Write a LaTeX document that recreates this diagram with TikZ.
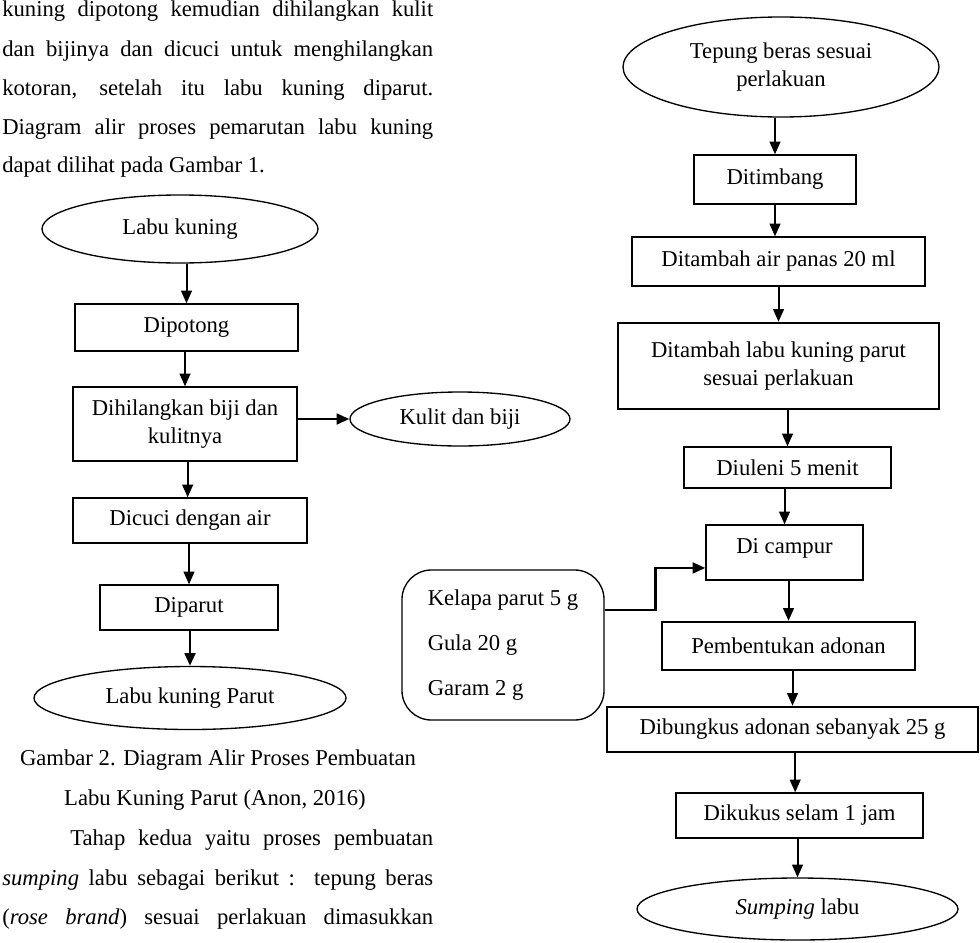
\documentclass[tikz,border=0pt]{standalone}
\usepackage{fontspec}
\setmainfont{Liberation Serif}
\usetikzlibrary{shapes.geometric,arrows.meta,calc}
\begin{document}
\begin{tikzpicture}[x=0.75pt,y=-0.75pt,
  every node/.style={font=\fontsize{17}{21}\selectfont, inner sep=0pt},
  sz/.style 2 args={minimum width=#1*0.75pt, minimum height=#2*0.75pt},
  box/.style={draw, line width=1pt, rectangle, align=center},
  tbox/.style={draw, line width=1.8pt, rectangle, align=center},
  oval/.style={draw, line width=1pt, ellipse, align=center},
  arr/.style={line width=1.5pt, -{Triangle[length=9.5pt,width=8pt]}},
  para/.style={anchor=base west}]
\useasboundingbox[fill=white] (0,0) rectangle (980,942);

% paragraph top
\node[para] (p1) at (2,17) {\makebox[323.25pt][s]{kuning dipotong kemudian dihilangkan kulit}};
\node[para] (p2) at (2,56) {\makebox[323.25pt][s]{dan bijinya dan dicuci untuk menghilangkan}};
\node[para] (p3) at (2,95) {\makebox[323.25pt][s]{kotoran, setelah itu labu kuning diparut.}};
\node[para] (p4) at (2,134) {\makebox[323.25pt][s]{Diagram alir proses pemarutan labu kuning}};
\node[para] (p5) at (2,172) {dapat dilihat pada Gambar 1.};

% left chart
\node[oval, sz={276}{68}] (lk) at (180,229) {Labu kuning};
\node[box, sz={223}{47}] (dip) at (186.5,327.5) {Dipotong};
\node[box, sz={224}{74}] (dih) at (185,424) {Dihilangkan biji dan\\kulitnya};
\node[oval, sz={220}{54}] (kulit) at (460,419) {Kulit dan biji};
\node[box, sz={234}{45}] (dic) at (190,520.5) {Dicuci dengan air};
\node[box, sz={178}{45}] (par) at (189,607.5) {Diparut};
\node[oval, sz={312}{63}] (lkp) at (190,698) {Labu kuning Parut};

\draw[arr] (dip.north |- lk.south) -- (dip.north);
\draw[arr] (dih.north |- dip.south) -- (dih.north);
\draw[arr, line width=2pt] (dih.east |- kulit) -- (kulit.west);
\draw[arr] ([xshift=2pt]dih.south) -- ([xshift=2pt]dih.south |- dic.north);
\draw[arr] (par.north |- dic.south) -- (par.north);
\draw[arr, line width=2pt] (lkp.north |- par.south) -- (lkp.north);

% caption and paragraph bottom
\node[anchor=base] (c1) at (218,765) {Gambar 2. Diagram Alir Proses Pembuatan};
\node[anchor=base] (c2) at (215,805) {Labu Kuning Parut (Anon, 2016)};
\node[para] (q1) at (70,845) {\makebox[272.25pt][s]{Tahap kedua yaitu proses pembuatan}};
\node[para] (q2) at (2,885) {\makebox[323.25pt][s]{\textit{sumping} labu sebagai berikut :\ \ tepung beras}};
\node[para] (q3) at (2,924) {\makebox[323.25pt][s]{(\textit{rose brand}) sesuai perlakuan dimasukkan}};

% right chart
\node[oval, sz={316}{100}] (tb) at (781,67) {Tepung beras sesuai\\perlakuan};
\node[box, sz={162}{49}] (tim) at (775,179.5) {Ditimbang};
\node[box, sz={293}{49}] (air) at (778.5,261.5) {Ditambah air panas 20 ml};
\node[tbox, sz={321}{86}] (lab) at (778.5,366) {Ditambah labu kuning parut\\sesuai perlakuan};
\node[box, sz={207}{41}] (ul) at (787.5,467.5) {Diuleni 5 menit};
\node[box, sz={157}{55}, text depth=10pt] (cam) at (784.5,552.5) {Di campur};
\node[tbox, sz={253}{48}] (pem) at (788.5,646) {Pembentukan adonan};
\node[tbox, sz={371}{45}] (bun) at (792.5,729.5) {Dibungkus adonan sebanyak 25 g};
\node[box, sz={247}{45}] (kuk) at (799.5,815.5) {Dikukus selam 1 jam};
\node[oval, sz={321}{62}] (sl) at (797.5,909) {\textit{Sumping} labu};
\node[draw, line width=1pt, rounded corners=22pt, sz={202}{150}, align=left,
      font=\fontsize{17}{33.8}\selectfont] (kel) at (503,645)
      {Kelapa parut 5 g\\Gula 20 g\\Garam 2 g};

\draw[arr] (tim.north |- tb.south) -- (tim.north);
\draw[arr] (tim.south) -- (tim.south |- air.north);
\draw[arr] (lab.north |- air.south) -- (lab.north);
\draw[arr] (ul.north |- lab.south) -- (ul.north);
\draw[arr] (cam.north |- ul.south) -- (cam.north);
\draw[arr] (pem.north |- cam.south) -- (pem.north);
\draw[arr] (bun.north |- pem.south) -- (bun.north);
\draw[arr] ([xshift=2pt]bun.south) -- ([xshift=2pt]bun.south |- kuk.north);
\draw[arr] (sl.north |- kuk.south) -- (sl.north);
\draw[arr, line width=2pt] ([yshift=26.25pt]kel.east) -- ++(51,0) |- ([yshift=-11.6pt]cam.west);
\end{tikzpicture}
\end{document}
